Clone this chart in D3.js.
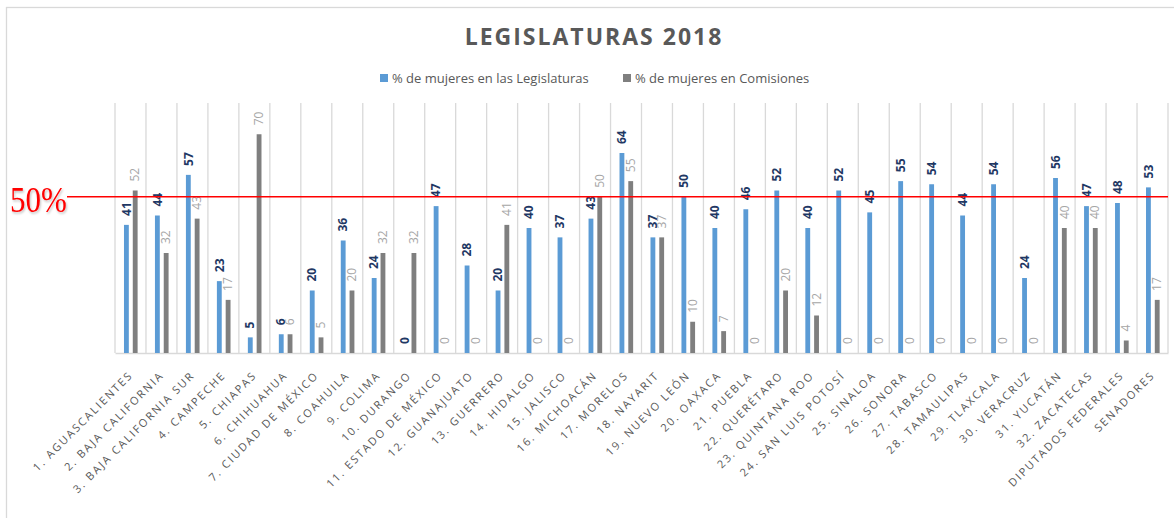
<!DOCTYPE html>
<html>
<head>
<meta charset="utf-8">
<script src="https://cdn.jsdelivr.net/npm/d3@7"></script>
<style>
  body { margin: 0; background: #fff; }
  svg { display: block; font-family: "Open Sans", sans-serif; }
</style>
</head>
<body>
<svg id="chart"></svg>
<script>
const categories = [
  "1. AGUASCALIENTES", "2. BAJA CALIFORNIA", "3. BAJA CALIFORNIA SUR", "4. CAMPECHE",
  "5. CHIAPAS", "6. CHIHUAHUA", "7. CIUDAD DE MÉXICO", "8. COAHUILA", "9. COLIMA",
  "10. DURANGO", "11. ESTADO DE MÉXICO", "12. GUANAJUATO", "13. GUERRERO", "14. HIDALGO",
  "15. JALISCO", "16. MICHOACÁN", "17. MORELOS", "18. NAYARIT", "19. NUEVO LEÓN",
  "20. OAXACA", "21. PUEBLA", "22. QUERÉTARO", "23. QUINTANA ROO", "24. SAN LUIS POTOSÍ",
  "25. SINALOA", "26. SONORA", "27. TABASCO", "28. TAMAULIPAS", "29. TLAXCALA",
  "30. VERACRUZ", "31. YUCATÁN", "32. ZACATECAS", "DIPUTADOS FEDERALES", "SENADORES"
];
const legislaturas = [41, 44, 57, 23, 5, 6, 20, 36, 24, 0, 47, 28, 20, 40, 37, 43, 64, 37, 50,
  40, 46, 52, 40, 52, 45, 55, 54, 44, 54, 24, 56, 47, 48, 53];
const comisiones = [52, 32, 43, 17, 70, 6, 5, 20, 32, 32, 0, 0, 41, 0, 0, 50, 55, 37, 10,
  7, 0, 20, 12, 0, 0, 0, 0, 0, 0, 0, 40, 40, 4, 17];
const seriesNames = ["% de mujeres en las Legislaturas", "% de mujeres en Comisiones"];
const titleText = "LEGISLATURAS 2018";
const yDomain = [0, 80];
const refValue = 50;
const refLabel = "50%";

const width = 1174, height = 518;
const plotLeft = 115, plotRight = 1168, plotTop = 103, plotBottom = 353;
const colors = ["#5B9BD5", "#7F7F7F"];
const labelColors = ["#1F3864", "#A6A6A6"];

const svg = d3.select("#chart")
  .attr("width", width)
  .attr("height", height)
  .attr("viewBox", [0, 0, width, height]);

// sombra del texto 50%
svg.append("defs").append("filter")
  .attr("id", "shadow")
  .append("feDropShadow")
  .attr("dx", 1).attr("dy", 1.5).attr("stdDeviation", 1)
  .attr("flood-color", "#000").attr("flood-opacity", 0.25);

// marco del gráfico
svg.append("rect")
  .attr("x", 6.5).attr("y", 7.5)
  .attr("width", 1200).attr("height", 600)
  .attr("fill", "#fff").attr("stroke", "#D9D9D9").attr("stroke-width", 1.3);

// escalas
const x0 = d3.scaleBand().domain(categories).range([plotLeft, plotRight]).padding(0);
const x1 = d3.scaleBand().domain([0, 1])
  .range([x0.bandwidth() * 0.29, x0.bandwidth() * 0.73])
  .paddingInner(0.45);
const y = d3.scaleLinear().domain(yDomain).range([plotBottom, plotTop]);

// líneas verticales de la cuadrícula
const bounds = categories.map(c => x0(c)).concat([x0.range()[1]]);
svg.append("g")
  .selectAll("line")
  .data(bounds)
  .join("line")
  .attr("x1", d => d).attr("x2", d => d)
  .attr("y1", plotTop).attr("y2", plotBottom)
  .attr("stroke", "#D9D9D9").attr("stroke-width", 1.3);

// eje x
const xAxis = svg.append("g")
  .attr("transform", `translate(0,${plotBottom})`)
  .call(d3.axisBottom(x0).tickSize(0).tickSizeOuter(0));
xAxis.select(".domain").attr("stroke", "#D9D9D9").attr("stroke-width", 1.3);
xAxis.selectAll(".tick text")
  .attr("x", 0).attr("y", 0).attr("dy", 0)
  .attr("text-anchor", "end")
  .attr("transform", "translate(3,23) rotate(-45)")
  .attr("fill", "#595959")
  .style("font-family", "'Open Sans', sans-serif")
  .style("font-size", "11px")
  .style("letter-spacing", "1.9px");

// barras
const rows = categories.map((c, i) => ({ cat: c, vals: [legislaturas[i], comisiones[i]] }));
const groups = svg.append("g")
  .selectAll("g")
  .data(rows)
  .join("g")
  .attr("transform", d => `translate(${x0(d.cat)},0)`);

groups.selectAll("rect")
  .data(d => d.vals.map((v, k) => ({ k, v })))
  .join("rect")
  .attr("x", d => x1(d.k))
  .attr("width", x1.bandwidth())
  .attr("y", d => y(d.v))
  .attr("height", d => y(0) - y(d.v))
  .attr("fill", d => colors[d.k]);

groups.selectAll("text")
  .data(d => d.vals.map((v, k) => ({ k, v })))
  .join("text")
  .attr("transform", d => `translate(${x1(d.k) + x1.bandwidth() / 2},${y(d.v) - 9}) rotate(-90)`)
  .attr("dy", "0.35em")
  .attr("text-anchor", "start")
  .attr("fill", d => labelColors[d.k])
  .style("font-size", "12px")
  .style("font-weight", d => d.k === 0 ? "bold" : "normal")
  .text(d => d.v);

// línea de referencia 50%
svg.append("line")
  .attr("x1", 67).attr("x2", plotRight)
  .attr("y1", y(refValue)).attr("y2", y(refValue))
  .attr("stroke", "#FF0000").attr("stroke-width", 1.5);

svg.append("text")
  .attr("transform", `translate(10,${y(refValue) + 15}) scale(1,1.15)`)
  .attr("fill", "#FF0000")
  .attr("filter", "url(#shadow)")
  .style("font-family", "'Liberation Serif', 'Times New Roman', serif")
  .style("font-size", "31px")
  .text(refLabel);

// título
svg.append("text")
  .attr("x", 594).attr("y", 45)
  .attr("text-anchor", "middle")
  .attr("fill", "#595959")
  .style("font-size", "23px")
  .style("font-weight", "bold")
  .style("letter-spacing", "2px")
  .text(titleText);

// leyenda
const legendX = [380, 623];
const legend = svg.append("g")
  .selectAll("g")
  .data(seriesNames)
  .join("g")
  .attr("transform", (d, i) => `translate(${legendX[i]},78)`);
legend.append("rect")
  .attr("x", 0).attr("y", -4).attr("width", 8).attr("height", 8)
  .attr("fill", (d, i) => colors[i]);
legend.append("text")
  .attr("x", 12).attr("y", 0).attr("dy", "0.35em")
  .attr("fill", "#595959")
  .style("font-size", "13px")
  .text(d => d);
</script>
</body>
</html>
